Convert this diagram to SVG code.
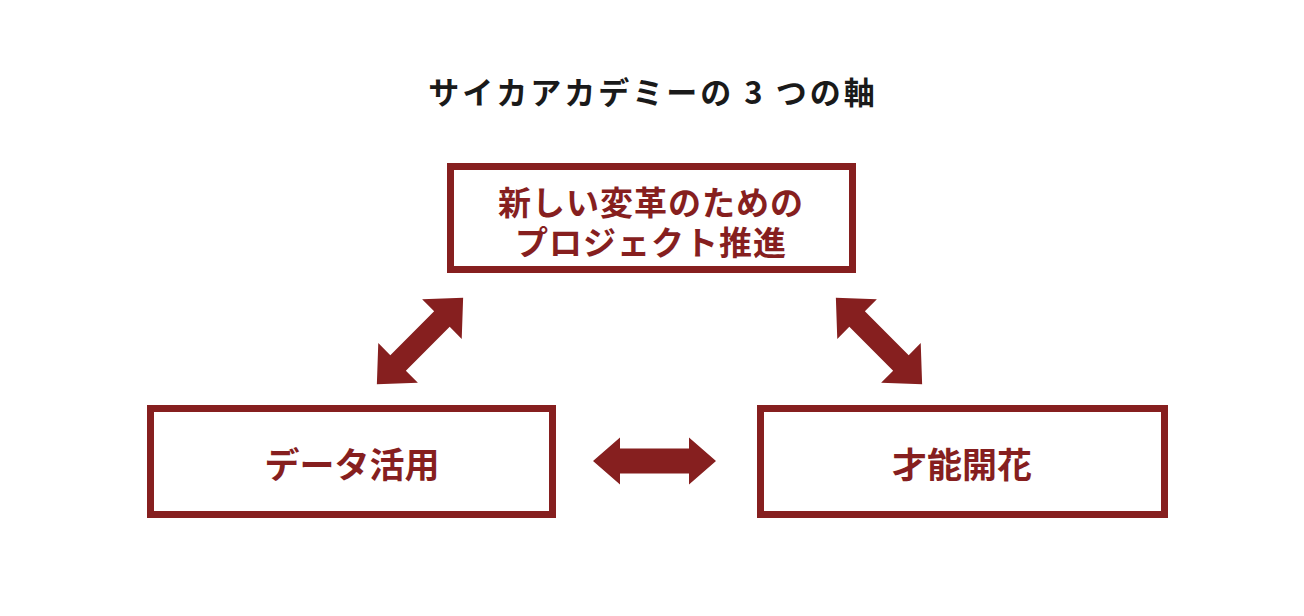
<svg xmlns="http://www.w3.org/2000/svg" width="1304" height="616" viewBox="0 0 1304 616">
<style>
.box{fill:#fff;stroke:#861f1f;stroke-width:7}
.t{font-family:"Noto Sans CJK JP",sans-serif;font-weight:bold;fill:#861f1f;font-size:35px;text-anchor:middle}
.t2{font-size:33px;letter-spacing:1px}
.arr{fill:#861f1f}
</style>
<rect width="1304" height="616" fill="#fff"/>
<text x="653" y="104" font-family="'Noto Sans CJK JP',sans-serif" font-weight="bold" font-size="31" letter-spacing="3" text-anchor="middle" fill="#1a1a1a">サイカアカデミーの 3 つの軸</text>
<g id="top"><rect class="box" x="450.5" y="166.5" width="402" height="103"/>
<text class="t t2" x="651" y="215">新しい変革のための</text><text class="t t2" x="651" y="255">プロジェクト推進</text></g>
<g id="left"><rect class="box" x="150.5" y="408.5" width="402" height="106"/>
<text class="t" x="352" y="478">データ活用</text></g>
<g id="right"><rect class="box" x="760.5" y="408.5" width="404" height="106"/>
<text class="t" x="962" y="478">才能開花</text></g>
<g id="connectors">
<path class="arr" transform="translate(654.5,461)" d="M-61.5 0L-34.5-23.5L-34.5-12.5L34.5-12.5L34.5-23.5L61.5 0L34.5 23.5L34.5 12.5L-34.5 12.5L-34.5 23.5Z"/>
<path class="arr" transform="translate(420,341) rotate(-45)" d="M-61 0L-31-28L-31-11L31-11L31-28L61 0L31 28L31 11L-31 11L-31 28Z"/>
<path class="arr" transform="translate(879,341) rotate(45)" d="M-61 0L-31-28L-31-11L31-11L31-28L61 0L31 28L31 11L-31 11L-31 28Z"/>
</g>
</svg>
